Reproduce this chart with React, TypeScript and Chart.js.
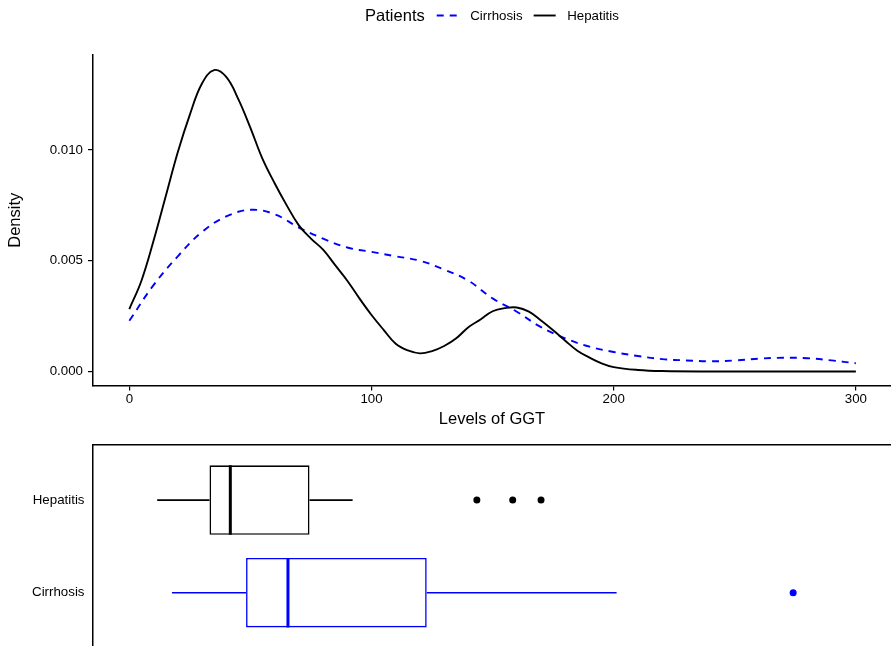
import React, { useEffect, useRef } from 'react';
import { Chart, registerables } from 'chart.js';

Chart.register(...registerables);

const FONT = '"Liberation Sans", Arial, Helvetica, sans-serif';

// ---- Density panel ----
const LEGEND_TITLE = 'Patients';
const X_TITLE = 'Levels of GGT';
const Y_TITLE = 'Density';
const X_TICKS = [0, 100, 200, 300];
const Y_TICKS = [0, 0.005, 0.01];

const HEP_LABEL = 'Hepatitis';
const HEP_X = [0, 5, 10, 15, 20, 25, 30, 35, 40, 45, 50, 55, 60, 65, 70, 75, 80, 85, 90, 95, 100, 105, 110, 115, 120, 125, 130, 135, 140, 145, 150, 155, 160, 165, 170, 175, 180, 185, 190, 195, 200, 210, 220, 240, 260, 280, 300];
const HEP_D = [0.00282, 0.0041, 0.0059, 0.0079, 0.0099, 0.0116, 0.0130, 0.01361, 0.0133, 0.0123, 0.0110, 0.0096, 0.0085, 0.0075, 0.0066, 0.0060, 0.0055, 0.0048, 0.0041, 0.0033, 0.00255, 0.00188, 0.00125, 0.00095, 0.00082, 0.00092, 0.00115, 0.0015, 0.0020, 0.00235, 0.00272, 0.00286, 0.00289, 0.0027, 0.0023, 0.00186, 0.00139, 0.00094, 0.00063, 0.00037, 0.0002, 0.00007, 0.00002, 0, 0, 0, 0];

const CIR_LABEL = 'Cirrhosis';
const CIR_X = [0, 10, 20, 30, 40, 50, 60, 70, 80, 90, 100, 110, 120, 130, 140, 150, 160, 170, 180, 190, 200, 210, 220, 230, 240, 250, 260, 270, 280, 290, 300];
const CIR_D = [0.00229, 0.0039, 0.0052, 0.0063, 0.0070, 0.0073, 0.0071, 0.0065, 0.0060, 0.0056, 0.0054, 0.0052, 0.0050, 0.0046, 0.0041, 0.0033, 0.0027, 0.0020, 0.0015, 0.00112, 0.00088, 0.0007, 0.00056, 0.0005, 0.00046, 0.0005, 0.00058, 0.00062, 0.0006, 0.0005, 0.00037];

// ---- Box plot panel ----
const BOX_GROUPS = ['Hepatitis', 'Cirrhosis'];
const BOX_POS = [2, 1];
const BOX_COLORS = ['#000000', '#0000FF'];
const WHISKER_LO = [11.5, 17.6];
const Q1 = [33.1, 48.2];
const MEDIAN = [41.7, 65.5];
const Q3 = [74.4, 122.8];
const WHISKER_HI = [92.2, 201.2];
const OUTLIERS = [[143.5, 158.3, 170.0], [274.1]];
const BOX_HALF = 0.375;

const X_MIN = -15;
const X_MAX = 314.5;

const legendPlugin = {
  id: 'inlineLegend',
  afterDraw(chart: any) {
    const { ctx, chartArea } = chart;
    ctx.save();
    const titleFont = `16.5px ${FONT}`;
    const labelFont = `13.3px ${FONT}`;
    ctx.font = titleFont;
    const tw = ctx.measureText(LEGEND_TITLE).width;
    ctx.font = labelFont;
    const items = chart.data.datasets.map((ds: any) => ({
      label: ds.label,
      w: ctx.measureText(ds.label).width,
      color: ds.borderColor,
      dash: ds.borderDash || [],
      lw: ds.borderWidth,
    }));
    const KEY = 22, GT = 12, GK = 11.5, GI = 11;
    let total = tw;
    items.forEach((it: any, i: number) => {
      total += (i === 0 ? GT : GI) + KEY + GK + it.w;
    });
    let x = (chartArea.left + chartArea.right) / 2 - total / 2;
    const y = 16;
    ctx.textBaseline = 'middle';
    ctx.textAlign = 'left';
    ctx.fillStyle = '#000';
    ctx.font = titleFont;
    ctx.fillText(LEGEND_TITLE, x, y);
    x += tw;
    items.forEach((it: any, i: number) => {
      x += i === 0 ? GT : GI;
      ctx.beginPath();
      ctx.setLineDash(it.dash);
      ctx.strokeStyle = it.color;
      ctx.lineWidth = it.lw;
      ctx.lineCap = 'butt';
      ctx.moveTo(x, y - 0.5);
      ctx.lineTo(x + KEY, y - 0.5);
      ctx.stroke();
      ctx.setLineDash([]);
      x += KEY + GK;
      ctx.font = labelFont;
      ctx.fillStyle = '#000';
      ctx.fillText(it.label, x, y);
      x += it.w;
    });
    ctx.restore();
  },
};

export default function App() {
  const topRef = useRef<HTMLCanvasElement>(null);
  const botRef = useRef<HTMLCanvasElement>(null);

  useEffect(() => {
    const tickFont = { family: FONT, size: 13.3 };
    const titleFont = { family: FONT, size: 16.5 };

    const top = new Chart(topRef.current!, {
      type: 'line',
      data: {
        datasets: [
          {
            label: CIR_LABEL,
            data: CIR_X.map((x, i) => ({ x, y: CIR_D[i] })),
            borderColor: '#0000FF',
            borderWidth: 1.9,
            borderDash: [7, 6],
            pointRadius: 0,
            fill: false,
            tension: 0.4,
            order: 1,
          },
          {
            label: HEP_LABEL,
            data: HEP_X.map((x, i) => ({ x, y: HEP_D[i] })),
            borderColor: '#000000',
            borderWidth: 1.9,
            pointRadius: 0,
            fill: false,
            tension: 0.4,
            order: 0,
          },
        ] as any,
      },
      options: {
        animation: false,
        responsive: false,
        maintainAspectRatio: false,
        layout: { autoPadding: false, padding: { top: 55, left: 0, right: 0, bottom: 0 } },
        plugins: { legend: { display: false }, tooltip: { enabled: false } },
        scales: {
          x: {
            type: 'linear',
            min: X_MIN,
            max: X_MAX,
            afterBuildTicks: (s: any) => { s.ticks = X_TICKS.map((v) => ({ value: v })); },
            afterFit: (s: any) => { s.height = 44.5; },
            grid: { display: true, drawOnChartArea: false, drawTicks: true, tickLength: 5, color: '#000', lineWidth: 1.2 },
            border: { display: true, color: '#000', width: 1.5 },
            ticks: { color: '#000', font: tickFont, padding: 1, maxRotation: 0, callback: (v: any) => String(v) },
            title: { display: true, text: X_TITLE, color: '#000', font: titleFont, padding: { top: 4, bottom: 1 } },
          },
          y: {
            type: 'linear',
            min: -0.000632,
            max: 0.01429,
            afterBuildTicks: (s: any) => { s.ticks = Y_TICKS.map((v) => ({ value: v })); },
            afterFit: (s: any) => { s.width = 93; },
            grid: { display: true, drawOnChartArea: false, drawTicks: true, tickLength: 5, color: '#000', lineWidth: 1.2 },
            border: { display: true, color: '#000', width: 1.5 },
            ticks: { color: '#000', font: tickFont, padding: 5, callback: (v: any) => Number(v).toFixed(3) },
            title: { display: true, text: Y_TITLE, color: '#000', font: titleFont, padding: { top: 5.6, bottom: 0 } },
          },
        },
      } as any,
      plugins: [legendPlugin],
    });

    const datasets: any[] = [];
    datasets.push({
      type: 'bar',
      label: 'box',
      data: BOX_POS.map((p, i) => ({ y: p, x: [Q1[i], Q3[i]] })),
      backgroundColor: '#FFFFFF',
      borderColor: BOX_COLORS,
      borderWidth: 1.6,
      borderSkipped: false,
      categoryPercentage: 1,
      barPercentage: 0.75,
      order: 3,
      xAxisID: 'x',
      yAxisID: 'y',
    });
    BOX_POS.forEach((p, i) => {
      datasets.push({
        type: 'line',
        label: 'whiskerLo' + i,
        data: [{ x: WHISKER_LO[i], y: p }, { x: Q1[i], y: p }],
        borderColor: BOX_COLORS[i],
        borderWidth: 1.6,
        pointRadius: 0,
        fill: false,
        order: 2,
        xAxisID: 'x',
        yAxisID: 'y',
      });
      datasets.push({
        type: 'line',
        label: 'whiskerHi' + i,
        data: [{ x: Q3[i], y: p }, { x: WHISKER_HI[i], y: p }],
        borderColor: BOX_COLORS[i],
        borderWidth: 1.6,
        pointRadius: 0,
        fill: false,
        order: 2,
        xAxisID: 'x',
        yAxisID: 'y',
      });
      datasets.push({
        type: 'line',
        label: 'median' + i,
        data: [{ x: MEDIAN[i], y: p - BOX_HALF }, { x: MEDIAN[i], y: p + BOX_HALF }],
        borderColor: BOX_COLORS[i],
        borderWidth: 3,
        borderCapStyle: 'butt',
        pointRadius: 0,
        fill: false,
        order: 1,
        xAxisID: 'x',
        yAxisID: 'y',
      });
      datasets.push({
        type: 'scatter',
        label: 'outliers' + i,
        data: OUTLIERS[i].map((x) => ({ x, y: p })),
        backgroundColor: BOX_COLORS[i],
        borderColor: BOX_COLORS[i],
        pointRadius: 3.5,
        borderWidth: 0,
        showLine: false,
        order: 0,
        xAxisID: 'x',
        yAxisID: 'y',
      });
    });

    const bot = new Chart(botRef.current!, {
      type: 'bar',
      data: { datasets },
      options: {
        animation: false,
        responsive: false,
        maintainAspectRatio: false,
        indexAxis: 'y',
        layout: { autoPadding: false, padding: { top: 14.5, left: 0, right: 0, bottom: 0 } },
        plugins: { legend: { display: false }, tooltip: { enabled: false } },
        scales: {
          x: {
            type: 'linear',
            position: 'top',
            min: X_MIN,
            max: X_MAX,
            offset: false,
            grid: { display: false, drawTicks: false },
            ticks: { display: false },
            border: { display: true, color: '#000', width: 1.5 },
          },
          y: {
            type: 'linear',
            min: 0.425,
            max: 2.6,
            offset: false,
            afterBuildTicks: (s: any) => { s.ticks = BOX_POS.map((v) => ({ value: v })); },
            afterFit: (s: any) => {
              s.width = 93;
              s.paddingTop = 0;
              s.paddingBottom = 0;
            },
            grid: { display: false, drawTicks: false, offset: false },
            border: { display: true, color: '#000', width: 1.5 },
            ticks: {
              color: '#000',
              font: tickFont,
              padding: 8.5,
              callback: (v: any) => BOX_GROUPS[BOX_POS.indexOf(Number(v))] ?? '',
            },
          },
        },
      } as any,
    });

    return () => {
      top.destroy();
      bot.destroy();
    };
  }, []);

  return (
    <div style={{ position: 'absolute', left: 0, top: 0, width: 891, height: 646, background: '#fff', overflow: 'hidden' }}>
      <canvas ref={topRef} width={891} height={430} style={{ position: 'absolute', left: 0, top: 0, display: 'block' }} />
      <canvas ref={botRef} width={891} height={216} style={{ position: 'absolute', left: 0, top: 430, display: 'block' }} />
    </div>
  );
}
